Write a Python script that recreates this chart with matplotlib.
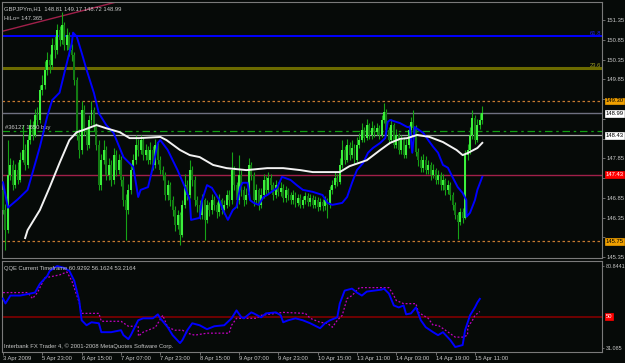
import matplotlib
matplotlib.use('Agg')
import matplotlib.pyplot as plt
import numpy as np

# ---------------- data ----------------
first_open = 147.05
close = [146.54, 146.03, 147.43, 147.68, 147.17, 147.55, 147.30, 147.81, 148.06, 147.68,
         148.31, 148.69, 148.44, 148.95, 148.82, 149.58, 149.70, 150.08, 150.34, 150.21,
         150.72, 150.59, 151.10, 150.84, 151.22, 150.72, 150.97, 150.59, 150.46, 149.83,
         148.44, 148.06, 149.07, 148.56, 148.19, 148.82, 149.07, 148.69, 148.19, 147.17,
         147.81, 148.06, 147.43, 147.68, 147.30, 147.93, 147.55, 147.81, 147.30, 146.79,
         146.54, 147.05, 147.55, 147.81, 148.19, 148.06, 148.31, 147.93, 148.06, 147.81,
         148.06, 147.68, 148.19, 147.81, 147.55, 147.43, 146.92, 147.17, 146.79, 146.54,
         146.16, 146.41, 145.91, 146.67, 147.17, 146.92, 147.55, 147.30, 146.79, 146.67,
         146.41, 146.79, 146.29, 146.67, 146.54, 146.79, 146.67, 146.49, 146.79, 146.54,
         146.67, 146.92, 146.79, 147.55, 147.17, 146.79, 147.43, 147.05, 146.79, 146.92,
         147.68, 147.43, 146.79, 147.05, 146.67, 146.92, 147.30, 147.05, 147.35, 147.17,
         146.92, 147.17, 147.00, 147.10, 146.85, 147.05, 146.92, 146.79, 146.92, 146.72,
         146.85, 146.67, 146.79, 146.90, 146.74, 146.85, 146.67, 146.79, 146.62, 146.74,
         146.64, 146.79, 146.67, 147.05, 147.17, 147.35, 147.25, 147.68, 148.06, 147.81,
         148.19, 147.93, 148.11, 147.81, 148.19, 148.31, 148.56, 148.36, 148.69, 148.44,
         148.62, 148.52, 148.62, 148.44, 148.82, 149.02, 148.56, 148.31, 148.69, 148.19,
         148.44, 148.06, 148.31, 147.93, 148.19, 148.56, 148.77, 148.62, 148.01, 147.81,
         147.61, 147.81, 147.55, 147.68, 147.43, 147.55, 147.30, 147.43, 147.17, 147.30,
         147.05, 147.17, 146.92, 146.67, 146.41, 146.24, 146.49, 146.34, 147.93, 148.06,
         148.44, 148.87, 148.31, 148.69, 148.81, 148.99]
high = [147.15, 146.70, 148.31, 147.85, 147.80, 147.70, 147.75, 148.00, 148.69, 148.20,
        148.45, 148.85, 148.80, 149.10, 149.15, 149.70, 149.95, 150.30, 150.55, 150.50,
        150.90, 150.95, 151.25, 151.20, 151.55, 151.30, 151.15, 151.05, 150.75, 150.55,
        149.90, 148.60, 149.30, 149.20, 148.65, 148.95, 149.30, 149.15, 148.75, 148.30,
        147.95, 148.30, 148.15, 147.85, 147.80, 148.10, 148.05, 147.95, 147.90, 147.40,
        146.95, 147.20, 147.70, 147.95, 148.44, 148.35, 148.45, 148.40, 148.20, 148.15,
        148.25, 148.15, 148.35, 148.25, 147.90, 147.65, 147.50, 147.30, 147.25, 146.90,
        146.65, 146.55, 146.50, 146.80, 147.45, 147.30, 147.80, 147.65, 147.40, 146.90,
        146.80, 146.95, 146.85, 146.80, 146.75, 146.95, 146.90, 146.75, 146.95, 146.85,
        146.80, 147.05, 147.05, 148.00, 147.65, 147.25, 147.93, 147.55, 147.15, 147.10,
        147.85, 147.75, 147.50, 147.20, 147.10, 147.10, 147.45, 147.40, 147.50, 147.45,
        147.25, 147.30, 147.25, 147.25, 147.20, 147.15, 147.10, 147.00, 147.05, 147.00,
        146.95, 146.95, 146.90, 147.00, 146.98, 146.95, 146.92, 146.90, 146.88, 146.85,
        146.82, 146.90, 146.85, 147.15, 147.30, 147.50, 147.45, 147.85, 148.31, 148.15,
        148.35, 148.25, 148.30, 148.20, 148.40, 148.50, 148.75, 148.65, 148.85, 148.75,
        148.80, 148.70, 148.75, 148.70, 148.95, 149.25, 149.10, 148.65, 148.85, 148.75,
        148.60, 148.50, 148.45, 148.40, 148.35, 148.70, 148.90, 149.07, 148.70, 148.10,
        147.90, 147.95, 147.90, 147.80, 147.75, 147.70, 147.60, 147.55, 147.50, 147.45,
        147.35, 147.30, 147.25, 147.00, 146.75, 146.50, 146.60, 146.60, 148.06, 148.20,
        148.65, 149.07, 148.95, 148.85, 149.00, 149.17]
low = [146.45, 145.53, 145.95, 147.30, 147.05, 147.10, 147.20, 147.25, 147.75, 147.55,
       147.60, 148.20, 148.30, 148.40, 148.70, 148.75, 149.45, 149.60, 149.95, 150.00,
       150.10, 150.40, 150.50, 150.70, 150.75, 150.60, 150.60, 150.45, 150.30, 149.70,
       148.30, 147.85, 147.95, 148.45, 148.05, 148.10, 148.70, 148.55, 148.05, 147.05,
       147.05, 147.70, 147.30, 147.30, 147.15, 147.20, 147.40, 147.45, 147.15, 146.65,
       145.78, 146.45, 146.95, 147.45, 147.70, 147.90, 147.95, 147.80, 147.80, 147.70,
       147.70, 147.55, 147.60, 147.70, 147.45, 147.30, 146.80, 146.80, 146.65, 146.40,
       146.00, 146.05, 145.65, 145.85, 146.60, 146.80, 146.85, 147.15, 146.65, 146.50,
       146.30, 146.30, 145.78, 146.20, 146.40, 146.45, 146.55, 146.35, 146.40, 146.45,
       146.45, 146.60, 146.65, 146.70, 147.05, 146.60, 146.70, 146.90, 146.65, 146.70,
       146.85, 147.30, 146.65, 146.70, 146.55, 146.60, 146.85, 146.95, 146.95, 147.05,
       146.80, 146.85, 146.90, 146.90, 146.75, 146.75, 146.80, 146.70, 146.70, 146.62,
       146.65, 146.58, 146.60, 146.70, 146.65, 146.65, 146.58, 146.60, 146.52, 146.55,
       146.52, 146.55, 146.35, 146.60, 146.95, 147.10, 147.15, 147.20, 147.60, 147.70,
       147.75, 147.80, 147.85, 147.70, 147.75, 148.10, 148.25, 148.25, 148.30, 148.35,
       148.35, 148.40, 148.45, 148.35, 148.40, 148.75, 148.45, 148.20, 148.25, 148.10,
       148.10, 147.95, 147.95, 147.85, 147.85, 148.10, 148.45, 148.50, 147.90, 147.65,
       147.50, 147.50, 147.45, 147.45, 147.30, 147.35, 147.20, 147.20, 147.05, 147.05,
       146.92, 146.95, 146.80, 146.55, 146.30, 145.80, 146.15, 146.20, 146.30, 147.80,
       147.95, 148.35, 148.20, 148.25, 148.60, 148.72]

hilo_x = [0, 2, 6, 10, 12, 15, 18, 20, 23, 26, 28, 28.5, 30, 32, 34, 37, 39, 42, 45, 49,
          53, 55, 56, 59, 61, 63, 64, 67, 71, 74, 76, 76.5, 80, 81, 83, 85, 88, 89.5, 91.5, 93.5,
          95, 96.5, 97.5, 99.5, 100.5, 102, 104, 106, 107.5, 111.5, 113.5, 117, 119.5, 122, 126, 130,
          132, 134, 138, 140, 142, 144, 146.5, 148.5, 150.5, 153.5, 155.5, 156.5, 157.5, 161.5,
          164.5, 165.5, 166.5, 167.5, 171, 173, 175, 177, 179, 181, 183, 185, 187, 188.5, 188.6,
          190, 192, 193, 195]
hilo_y = [147.24, 146.60, 146.81, 147.05, 147.48, 148.14, 148.91, 149.32, 149.51, 150.27,
          150.77, 151.03, 150.93, 150.52, 150.09, 149.50, 148.99, 148.69, 148.49, 147.88,
          147.63, 146.87, 147.05, 147.12, 147.63, 148.24, 148.31, 148.06, 147.55, 147.12,
          146.79, 146.29, 146.34, 146.79, 147.17, 147.10, 146.79, 146.54, 146.29, 146.54,
          146.62, 147.12, 147.23, 147.23, 146.79, 146.72, 146.67, 146.87, 146.92, 147.10,
          147.38, 147.30, 147.17, 147.05, 147.00, 146.92, 146.72, 146.67, 146.72, 146.87,
          147.23, 147.55, 147.73, 147.99, 148.11, 148.24, 148.36, 148.77, 148.82, 148.74,
          148.64, 148.64, 147.99, 148.64, 148.49, 148.31, 148.14, 147.99, 147.68, 147.61,
          147.36, 147.12, 146.97, 146.79, 146.37, 146.47, 146.79, 147.05, 147.38]

ma_x = [9, 10, 15, 19, 23, 27, 30, 32.5, 38, 42, 47.5, 51.5, 55.5, 64, 66.5, 72, 76, 80,
        85.5, 91, 99, 107.5, 114, 121, 126, 132, 137, 141, 148, 153.5, 157.5, 161.5, 164.5,
        168.5, 173.5, 179, 184.5, 187, 189, 193, 195]
ma_y = [145.83, 146.03, 146.54, 147.12, 147.73, 148.31, 148.51, 148.56, 148.69, 148.61,
        148.51, 148.36, 148.36, 148.39, 148.31, 148.06, 147.93, 147.88, 147.68, 147.60,
        147.55, 147.60, 147.60, 147.55, 147.50, 147.50, 147.50, 147.65, 147.80, 148.06,
        148.24, 148.34, 148.36, 148.44, 148.39, 148.26, 148.06, 147.93, 147.98, 148.11, 148.24]

qqe_x = [0, 1, 3, 7, 11, 13, 15, 18, 19, 22, 25, 27, 29, 31, 32, 34, 36, 39, 40, 44, 48, 49,
         51, 52, 55, 57, 61, 63, 64, 67, 69, 72, 73, 75, 77, 80, 83, 86, 90, 93, 95, 97, 98,
         101, 102, 105, 107, 111, 113, 114, 116, 119, 122, 125, 129, 131, 133, 136, 137, 139,
         142, 144, 146, 148, 151, 154, 155, 157, 159, 161, 163, 164, 166, 168, 170, 172, 175,
         177, 179, 182, 184, 187, 188, 190, 192, 193, 194]
qqe_y = [61.1, 58.1, 62.9, 62.9, 64.1, 64.7, 70.0, 74.8, 77.8, 80.8, 79.6, 77.8, 71.8, 59.9,
         47.9, 44.9, 46.7, 46.1, 40.7, 40.7, 41.9, 38.9, 36.5, 38.9, 47.9, 49.1, 49.1, 51.5,
         49.1, 43.7, 38.9, 34.1, 35.9, 41.9, 46.1, 44.9, 42.5, 44.3, 44.9, 49.1, 53.9, 49.7,
         49.1, 52.7, 52.1, 49.7, 52.1, 52.7, 50.9, 46.7, 47.9, 49.1, 47.9, 46.1, 43.1, 46.1,
         47.9, 49.7, 58.0, 65.9, 67.1, 64.7, 62.9, 65.3, 65.9, 66.5, 67.1, 64.1, 56.9, 55.7,
         56.9, 51.5, 52.1, 55.7, 47.9, 43.7, 40.7, 38.9, 40.7, 35.9, 31.7, 32.9, 41.9, 50.9,
         55.7, 58.7, 60.9]
trail_x = [0, 10, 12, 14, 17, 21, 23, 26, 28, 31, 32, 39, 40, 48, 51, 55, 55.1, 57, 62, 65,
           67, 70, 73, 75, 78, 83, 92, 93, 95, 103, 105, 114, 123, 125, 129, 132, 134, 136,
           138, 140, 142, 145, 157, 159, 160, 163, 168, 169, 173, 175, 177, 180, 184, 187,
           189, 189.1, 191, 192, 194]
trail_y = [64.7, 64.7, 61.1, 64.7, 73.6, 74.8, 75.4, 77.2, 71.8, 58.7, 52.1, 52.1, 47.3, 47.3,
           44.3, 44.3, 38.3, 40.7, 43.7, 50.9, 43.7, 41.9, 41.9, 40.1, 38.9, 40.1, 40.1, 44.9,
           49.1, 49.1, 50.9, 52.7, 52.1, 49.1, 46.7, 46.1, 43.7, 47.9, 50.9, 61.1, 62.9, 67.7,
           67.7, 62.9, 59.9, 58.0, 58.0, 52.7, 49.1, 44.9, 44.9, 41.9, 37.7, 37.7, 38.9, 43.7,
           47.9, 50.9, 53.2]

time_ticks = [0, 16, 32, 48, 64, 80, 96, 112, 128, 144, 160, 176, 192]
time_labels = ['3 Apr 2009', '5 Apr 23:00', '6 Apr 15:00', '7 Apr 07:00', '7 Apr 23:00',
               '8 Apr 15:00', '9 Apr 07:00', '9 Apr 23:00', '10 Apr 15:00', '13 Apr 11:00',
               '14 Apr 03:00', '14 Apr 19:00', '15 Apr 11:00']
price_ticks = [145.35, 145.85, 146.35, 146.85, 147.35, 147.85, 148.35, 148.85, 149.35,
               149.85, 150.35, 150.85, 151.35]
price_tick_labels = ['145.35', '', '146.35', '146.85', '', '147.85', '', '', '',
                     '149.85', '150.35', '150.85', '151.35']

fib618 = 150.94
fib236 = 150.14
level_hi = 149.30
level_lo = 145.75
bid = 148.99
order_level = 148.55
open_price = 148.43
red_level = 147.43
trend_x = [0, 47]
trend_y = [151.07, 151.82]
qqe_top, qqe_bot, qqe_mid = 80.8441, 31.085, 50

# ---------------- style ----------------
BG = '#060a08'
FRAME = '#7a7a7a'
TXT = '#c8c8c8'
FS = 4.2
plt.rcParams['font.family'] = ['Liberation Sans', 'DejaVu Sans']

fig = plt.figure(figsize=(6.25, 3.63), dpi=100, facecolor=BG)
W, H = 625.0, 363.0
ax = fig.add_axes([2 / W, 1 - 258 / H, 600 / W, 256 / H], facecolor=BG)
ax2 = fig.add_axes([2 / W, 1 - 352 / H, 600 / W, 91 / H], facecolor=BG)

n = len(close)
xs = np.arange(n)
opens = np.array([first_open] + close[:-1])
cl = np.array(close)
hi = np.array(high)
lo = np.array(low)
up = cl >= opens

ax.vlines(xs, lo, hi, color='#16a316', linewidth=0.8, zorder=2)
bh = np.maximum(np.abs(cl - opens), 0.02)
bb = np.minimum(cl, opens)
ax.bar(xs[up], bh[up], bottom=bb[up], width=0.8, color='#3cf03c', linewidth=0, zorder=3)
ax.bar(xs[~up], bh[~up], bottom=bb[~up], width=0.8, color='#137a13', linewidth=0, zorder=3)

# horizontal levels
ax.axhline(fib618, color='#0000ff', linewidth=1.4, zorder=1)
ax.axhline(fib236, color='#6b6b00', linewidth=2.2, zorder=1)
ax.axhline(level_hi, color='#c87a30', linewidth=0.9, linestyle=(0, (2, 2)), zorder=1)
ax.axhline(level_lo, color='#c87a30', linewidth=0.9, linestyle=(0, (2, 2)), zorder=1)
ax.axhline(bid, color='#6e7080', linewidth=1.0, zorder=1)
ax.axhline(order_level, color='#11a011', linewidth=0.9, linestyle=(0, (6, 3, 2, 3)), zorder=1)
ax.axhline(open_price, color='#a8a8a8', linewidth=0.9, zorder=1)
ax.axhline(red_level, color='#a0204a', linewidth=1.0, zorder=1)
ax.plot(trend_x, trend_y, color='#a0204a', linewidth=1.0, zorder=1)

ax.plot(hilo_x, hilo_y, color='#0000ff', linewidth=1.4, zorder=4)
ax.plot(ma_x, ma_y, color='#f2f2f2', linewidth=1.4, zorder=4)

ax.set_xlim(-0.41, 243.7)
ax.set_ylim(145.325, 151.806)
ax.set_xticks([])
ax.yaxis.tick_right()
ax.set_yticks(price_ticks)
ax.set_yticklabels(price_tick_labels)
ax.tick_params(axis='y', colors=FRAME, labelcolor=TXT, labelsize=FS, length=2, width=0.6, pad=1.5)
for s in ax.spines.values():
    s.set_color(FRAME)
    s.set_linewidth(0.8)

tr = ax.get_yaxis_transform()
ax.text(0.998, fib618, '61.8', color='#2020ff', fontsize=FS, ha='right', va='bottom', transform=tr)
ax.text(0.998, fib236, '23.6', color='#a0a020', fontsize=FS, ha='right', va='bottom', transform=tr)
ax.text(0.005, order_level + 0.02, '#36127 1650 buy', color=TXT, fontsize=FS, ha='left', va='bottom', transform=tr)


def box(axis, y, txt, fc, tc):
    axis.text(1.006, y, txt, transform=axis.get_yaxis_transform(), fontsize=FS, color=tc,
              ha='left', va='center', zorder=10, clip_on=False,
              bbox=dict(boxstyle='square,pad=0.15', facecolor=fc, edgecolor=fc, linewidth=0.5))


box(ax, level_hi, '%.2f' % level_hi, '#f0a000', '#000000')
box(ax, bid, '%.2f' % bid, '#ffffff', '#000000')
box(ax, open_price, '%.2f' % open_price, '#ffffff', '#000000')
box(ax, red_level, '%.2f' % red_level, '#ff0000', '#ffffff')
box(ax, level_lo, '%.2f' % level_lo, '#f0a000', '#000000')

ax.text(0.004, 0.985, 'GBPJPYm,H1  148.81 149.17 148.72 148.99', transform=ax.transAxes,
        color=TXT, fontsize=FS, ha='left', va='top')
ax.text(0.004, 0.947, 'HiLo= 147.365', transform=ax.transAxes, color=TXT, fontsize=FS,
        ha='left', va='top')

# ---------------- QQE panel ----------------
ax2.axhline(qqe_mid, color='#800000', linewidth=1.2, zorder=1)
ax2.plot(trail_x, trail_y, color='#c000c0', linewidth=0.9, linestyle=(0, (1.5, 1.5)), zorder=2)
ax2.plot(qqe_x, qqe_y, color='#0000ff', linewidth=1.4, zorder=3)
ax2.set_xlim(-0.41, 243.7)
ax2.set_ylim(28.69, 83.84)
ax2.yaxis.tick_right()
ax2.set_yticks([qqe_top, qqe_bot])
ax2.set_yticklabels(['80.8441', '31.085'])
ax2.tick_params(axis='y', colors=FRAME, labelcolor=TXT, labelsize=3.9, length=1.5, width=0.6, pad=1)
ax2.set_xticks(time_ticks)
ax2.set_xticklabels(time_labels)
ax2.tick_params(axis='x', colors=FRAME, labelcolor=TXT, labelsize=FS, length=2, width=0.6, pad=1)
for lab in ax2.get_xticklabels():
    lab.set_ha('left')
for s in ax2.spines.values():
    s.set_color(FRAME)
    s.set_linewidth(0.8)
box(ax2, qqe_mid, '50', '#ff0000', '#ffffff')
ax2.text(0.004, 0.95, 'QQE Current Timeframe 60.9292 56.1624 53.2164', transform=ax2.transAxes,
         color=TXT, fontsize=FS, ha='left', va='top')
ax2.text(0.004, 0.03, 'Interbank FX Trader 4, \u00a9 2001-2008 MetaQuotes Software Corp.',
         transform=ax2.transAxes, color=TXT, fontsize=FS, ha='left', va='bottom')

fig.savefig('out.png', dpi=100, facecolor=BG)
